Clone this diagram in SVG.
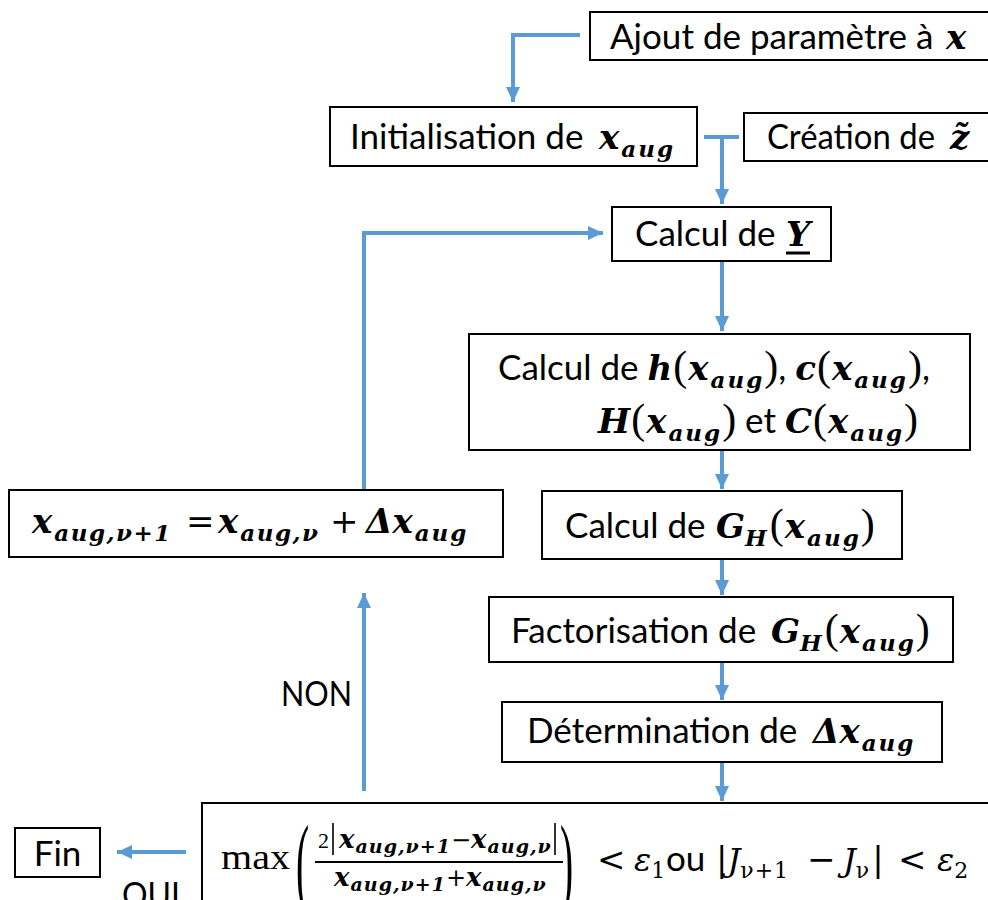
<svg xmlns="http://www.w3.org/2000/svg" width="988" height="900" viewBox="0 0 988 900">
<defs>
<marker id="ah" markerUnits="userSpaceOnUse" markerWidth="15" markerHeight="14" refX="15" refY="7" orient="auto">
<path d="M0,0 L15,7 L0,14 z" fill="#5B9BD5"/>
</marker>
</defs>
<style>
.box{fill:#fff;stroke:#000;stroke-width:2}
.t{font-family:Lato,"Open Sans",sans-serif;font-size:35px;fill:#000}
.m{font-family:"DejaVu Serif",serif;font-weight:bold;font-style:italic;font-size:34px}
.s{font-family:"DejaVu Serif",serif;font-weight:bold;font-style:italic;font-size:23px;letter-spacing:2px}
.su{font-family:"DejaVu Serif",serif;font-weight:bold;font-style:italic;font-size:23px;letter-spacing:1.5px}
.p{font-family:"Liberation Serif",serif;font-size:42px}
.q{font-family:"DejaVu Serif",serif;font-size:34px}
.fm{font-family:"DejaVu Serif",serif;font-weight:bold;font-style:italic;font-size:26px}
.fs{font-family:"DejaVu Serif",serif;font-weight:bold;font-style:italic;font-size:19px;letter-spacing:1px}
.fo{font-family:"DejaVu Serif",serif;font-size:24px}
.r{font-family:"DejaVu Serif",serif;font-style:italic;font-size:32px}
.rs{font-family:"DejaVu Serif",serif;font-size:22px;letter-spacing:1px}
.c{fill:none;stroke:#5B9BD5;stroke-width:4}
</style>
<rect width="988" height="900" fill="#fff"/>
<g id="connectors">
<polyline class="c" points="580,35 513,35 513,102" marker-end="url(#ah)"/>
<line class="c" x1="704" y1="137" x2="739" y2="137"/>
<line class="c" x1="722" y1="137" x2="722" y2="204" marker-end="url(#ah)"/>
<line class="c" x1="722" y1="261" x2="722" y2="331" marker-end="url(#ah)"/>
<line class="c" x1="722" y1="450" x2="722" y2="489" marker-end="url(#ah)"/>
<line class="c" x1="722" y1="559" x2="722" y2="595" marker-end="url(#ah)"/>
<line class="c" x1="722" y1="662" x2="722" y2="700" marker-end="url(#ah)"/>
<line class="c" x1="722" y1="762" x2="722" y2="801" marker-end="url(#ah)"/>
<polyline class="c" points="364,490 364,233 603,233" marker-end="url(#ah)"/>
<line class="c" x1="364" y1="791" x2="364" y2="593" marker-end="url(#ah)"/>
<line class="c" x1="186" y1="852" x2="117" y2="852" marker-end="url(#ah)"/>
<text x="281" y="706" class="t" textLength="71" lengthAdjust="spacingAndGlyphs">NON</text>
<text x="122" y="907" class="t" textLength="58" lengthAdjust="spacingAndGlyphs">OUI</text>
</g>
<g id="ajout">
<rect class="box" x="590" y="12" width="410" height="48"/>
<text x="610" y="49" class="t">Ajout de paramètre à <tspan class="m" x="946">x</tspan></text>
</g>
<g id="init">
<rect class="box" x="330" y="107" width="367" height="59"/>
<text x="350" y="149" class="t">Initialisation de <tspan class="m" x="599">x</tspan><tspan class="s" dx="2" dy="8">aug</tspan></text>
</g>
<g id="creation">
<rect class="box" x="744" y="113" width="260" height="48"/>
<text x="767" y="149" class="t"><tspan textLength="168" lengthAdjust="spacingAndGlyphs">Création de</tspan><tspan class="m" font-style="normal" x="950">z̃</tspan></text>
</g>
<g id="calculY">
<rect class="box" x="612" y="207" width="219" height="54"/>
<text x="635" y="246" class="t">Calcul de <tspan class="m" x="786">Y</tspan></text>
<line x1="786" y1="253" x2="810" y2="253" stroke="#000" stroke-width="3"/>
</g>
<g id="calculH">
<rect class="box" x="469" y="334" width="501" height="116"/>
<text x="498" y="380" class="t">Calcul de <tspan class="m">h</tspan><tspan class="p" dx="1">(</tspan><tspan class="m" dx="1">x</tspan><tspan class="s" dx="2" dy="8">aug</tspan><tspan class="p" dy="-8">)</tspan>, <tspan class="m">c</tspan><tspan class="p" dx="1">(</tspan><tspan class="m" dx="1">x</tspan><tspan class="s" dx="2" dy="8">aug</tspan><tspan class="p" dy="-8">)</tspan>,</text>
<text x="598" y="433" class="t"><tspan class="m">H</tspan><tspan class="p" dx="1">(</tspan><tspan class="m" dx="1">x</tspan><tspan class="s" dx="2" dy="8">aug</tspan><tspan class="p" dy="-8">)</tspan> et <tspan class="m">C</tspan><tspan class="p" dx="1">(</tspan><tspan class="m" dx="1">x</tspan><tspan class="s" dx="2" dy="8">aug</tspan><tspan class="p" dy="-8">)</tspan></text>
</g>
<g id="update">
<rect class="box" x="9" y="490" width="494" height="67"/>
<text x="32" y="533"><tspan class="m">x</tspan><tspan class="su" dx="2" dy="8">aug,ν+1</tspan><tspan class="q" font-size="30" x="186" dy="-8">=</tspan><tspan class="m" x="218">x</tspan><tspan class="su" dx="2" dy="8">aug,ν</tspan><tspan class="q" font-size="30" x="330" dy="-8">+</tspan><tspan class="m" x="366">Δx</tspan><tspan class="s" dx="2" dy="8">aug</tspan></text>
</g>
<g id="calculG">
<rect class="box" x="542" y="491" width="360" height="68"/>
<text x="565" y="538" class="t">Calcul de <tspan class="m" x="716">G</tspan><tspan class="s" dy="8">H</tspan><tspan class="p" dx="1" dy="-8">(</tspan><tspan class="m" dx="1">x</tspan><tspan class="s" dx="2" dy="8">aug</tspan><tspan class="p" dy="-8">)</tspan></text>
</g>
<g id="factor">
<rect class="box" x="489" y="597" width="464" height="65"/>
<text x="511" y="643" class="t">Factorisation de <tspan class="m" x="771">G</tspan><tspan class="s" dy="8">H</tspan><tspan class="p" dx="1" dy="-8">(</tspan><tspan class="m" dx="1">x</tspan><tspan class="s" dx="2" dy="8">aug</tspan><tspan class="p" dy="-8">)</tspan></text>
</g>
<g id="determ">
<rect class="box" x="502" y="702" width="440" height="60"/>
<text x="527" y="743" class="t">Détermination de <tspan class="m" x="813">Δx</tspan><tspan class="s" dx="2" dy="8">aug</tspan></text>
</g>
<g id="condition">
<rect class="box" x="202" y="803" width="800" height="120"/>
<text x="221" y="869" font-family="'Liberation Serif',serif" font-size="36" textLength="69" lengthAdjust="spacingAndGlyphs">max</text>
<text transform="translate(296,897) scale(0.38,1)" font-family="'Liberation Serif',serif" font-size="104">(</text>
<text transform="translate(560,897) scale(0.38,1)" font-family="'Liberation Serif',serif" font-size="104">)</text>
<text x="318" y="848" font-family="'Liberation Serif',serif" font-size="22">2</text>
<line x1="333" y1="823" x2="333" y2="855" stroke="#000" stroke-width="1.6"/>
<line x1="555" y1="823" x2="555" y2="855" stroke="#000" stroke-width="1.6"/>
<text y="848"><tspan class="fm" x="339">x</tspan><tspan class="fs" dx="1" dy="5">aug,ν+1</tspan><tspan class="fo" dy="-5">−</tspan><tspan class="fm">x</tspan><tspan class="fs" dx="1" dy="5">aug,ν</tspan></text>
<line x1="315" y1="862" x2="563" y2="862" stroke="#000" stroke-width="2"/>
<text y="886"><tspan class="fm" x="334">x</tspan><tspan class="fs" dx="1" dy="5">aug,ν+1</tspan><tspan class="fo" dy="-5">+</tspan><tspan class="fm">x</tspan><tspan class="fs" dx="1" dy="5">aug,ν</tspan></text>
<text y="871"><tspan class="q" x="597">&lt;</tspan><tspan class="r" x="634">ε</tspan><tspan class="rs" dy="7">1</tspan><tspan class="t" x="666" dy="-7">ou</tspan><tspan class="q" x="716">|</tspan><tspan class="r">J</tspan><tspan class="rs" dy="7">ν+1</tspan><tspan class="q" x="807" dy="-7">−</tspan><tspan class="r" x="843">J</tspan><tspan class="rs" dy="7">ν</tspan><tspan class="q" dx="2" dy="-7">|</tspan><tspan class="q" x="898">&lt;</tspan><tspan class="r" x="937">ε</tspan><tspan class="rs" dy="7">2</tspan></text>
</g>
<g id="fin">
<rect class="box" x="15" y="828" width="85" height="49"/>
<text x="57.5" y="866" class="t" text-anchor="middle">Fin</text>
</g>
</svg>
